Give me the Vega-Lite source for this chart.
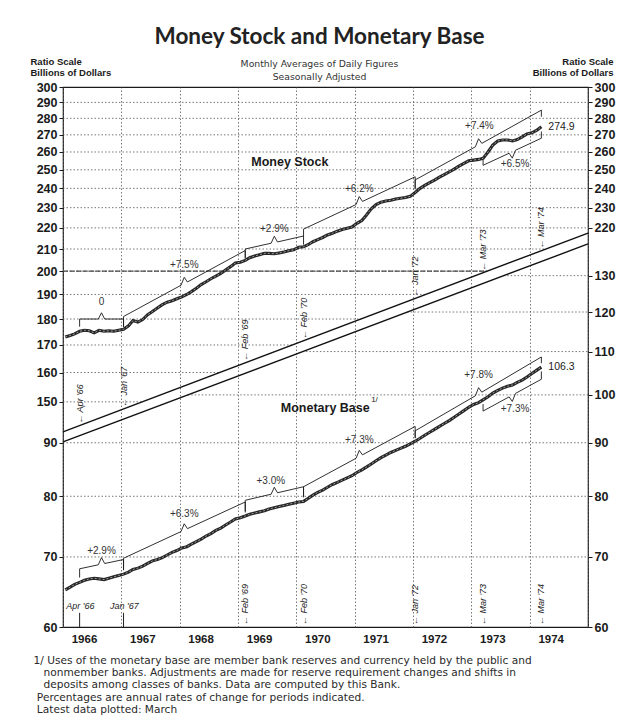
{
"$schema":"https://vega.github.io/schema/vega-lite/v6.json",
"width":525,"height":540,
"autosize":{"type":"none"},
"padding":{"left":63,"top":87,"right":52,"bottom":98},
"background":"white",
"title":{"text":"Money Stock and Monetary Base","subtitle":["Monthly Averages of Daily Figures","Seasonally Adjusted"],"anchor":"middle","dx":-6,"offset":-26,"font":"Lato","fontSize":22.5,"fontWeight":"bold","color":"#222","subtitleFont":"DejaVu Sans","subtitleFontSize":9.3,"subtitleColor":"#333","subtitlePadding":12,"subtitleLineHeight":12.5},
"config":{
 "view":{"stroke":"#1a1a1a","strokeWidth":1.2},
 "axisY":{"labelFont":"Liberation Sans","labelFontWeight":"bold","labelFontSize":12.5,"labelColor":"#1a1a1a","tickColor":"#1a1a1a","domain":false,"grid":false,"labelOverlap":false,"titleFont":"Liberation Sans","titleColor":"#1a1a1a"}
},
"datasets":{
 "money":[
  {"date":"1966-01-15","value":173.0},{"date":"1966-02-15","value":173.6},{"date":"1966-03-15","value":174.2},{"date":"1966-04-15","value":175.2},{"date":"1966-05-15","value":175.6},{"date":"1966-06-15","value":175.4},{"date":"1966-07-15","value":174.6},{"date":"1966-08-15","value":175.6},{"date":"1966-09-15","value":175.2},{"date":"1966-10-15","value":175.4},{"date":"1966-11-15","value":175.2},{"date":"1966-12-15","value":175.6},
  {"date":"1967-01-15","value":176.0},{"date":"1967-02-15","value":177.3},{"date":"1967-03-15","value":179.4},{"date":"1967-04-15","value":178.8},{"date":"1967-05-15","value":179.8},{"date":"1967-06-15","value":181.7},{"date":"1967-07-15","value":183.0},{"date":"1967-08-15","value":184.4},{"date":"1967-09-15","value":185.8},{"date":"1967-10-15","value":186.8},{"date":"1967-11-15","value":187.4},{"date":"1967-12-15","value":188.2},
  {"date":"1968-01-15","value":189.0},{"date":"1968-02-15","value":190.0},{"date":"1968-03-15","value":191.2},{"date":"1968-04-15","value":192.6},{"date":"1968-05-15","value":194.2},{"date":"1968-06-15","value":195.4},{"date":"1968-07-15","value":196.7},{"date":"1968-08-15","value":197.8},{"date":"1968-09-15","value":199.0},{"date":"1968-10-15","value":200.5},{"date":"1968-11-15","value":202.0},{"date":"1968-12-15","value":203.6},
  {"date":"1969-01-15","value":204.0},{"date":"1969-02-15","value":204.8},{"date":"1969-03-15","value":206.0},{"date":"1969-04-15","value":206.8},{"date":"1969-05-15","value":207.4},{"date":"1969-06-15","value":208.0},{"date":"1969-07-15","value":208.0},{"date":"1969-08-15","value":207.8},{"date":"1969-09-15","value":208.2},{"date":"1969-10-15","value":208.6},{"date":"1969-11-15","value":209.2},{"date":"1969-12-15","value":209.6},
  {"date":"1970-01-15","value":210.8},{"date":"1970-02-15","value":211.0},{"date":"1970-03-15","value":212.0},{"date":"1970-04-15","value":213.4},{"date":"1970-05-15","value":214.4},{"date":"1970-06-15","value":215.4},{"date":"1970-07-15","value":216.6},{"date":"1970-08-15","value":217.4},{"date":"1970-09-15","value":218.4},{"date":"1970-10-15","value":219.2},{"date":"1970-11-15","value":219.8},{"date":"1970-12-15","value":220.4},
  {"date":"1971-01-15","value":222.2},{"date":"1971-02-15","value":223.6},{"date":"1971-03-15","value":226.2},{"date":"1971-04-15","value":229.4},{"date":"1971-05-15","value":231.6},{"date":"1971-06-15","value":232.8},{"date":"1971-07-15","value":233.4},{"date":"1971-08-15","value":233.8},{"date":"1971-09-15","value":234.4},{"date":"1971-10-15","value":234.8},{"date":"1971-11-15","value":235.2},{"date":"1971-12-15","value":235.8},
  {"date":"1972-01-15","value":237.8},{"date":"1972-02-15","value":240.0},{"date":"1972-03-15","value":241.6},{"date":"1972-04-15","value":243.0},{"date":"1972-05-15","value":244.4},{"date":"1972-06-15","value":246.0},{"date":"1972-07-15","value":247.4},{"date":"1972-08-15","value":248.8},{"date":"1972-09-15","value":250.4},{"date":"1972-10-15","value":252.0},{"date":"1972-11-15","value":253.6},{"date":"1972-12-15","value":255.0},
  {"date":"1973-01-15","value":255.4},{"date":"1973-02-15","value":255.8},{"date":"1973-03-15","value":256.4},{"date":"1973-04-15","value":260.0},{"date":"1973-05-15","value":264.0},{"date":"1973-06-15","value":266.4},{"date":"1973-07-15","value":267.0},{"date":"1973-08-15","value":267.0},{"date":"1973-09-15","value":266.4},{"date":"1973-10-15","value":267.2},{"date":"1973-11-15","value":268.8},{"date":"1973-12-15","value":270.6},
  {"date":"1974-01-15","value":271.2},{"date":"1974-02-15","value":272.8},{"date":"1974-03-15","value":274.9}
 ],
 "base":[
  {"date":"1966-01-15","value":65.1},{"date":"1966-02-15","value":65.5},{"date":"1966-03-15","value":65.9},{"date":"1966-04-15","value":66.2},{"date":"1966-05-15","value":66.5},{"date":"1966-06-15","value":66.7},{"date":"1966-07-15","value":66.8},{"date":"1966-08-15","value":66.7},{"date":"1966-09-15","value":66.6},{"date":"1966-10-15","value":66.8},{"date":"1966-11-15","value":67.0},{"date":"1966-12-15","value":67.2},
  {"date":"1967-01-15","value":67.4},{"date":"1967-02-15","value":67.7},{"date":"1967-03-15","value":68.1},{"date":"1967-04-15","value":68.3},{"date":"1967-05-15","value":68.6},{"date":"1967-06-15","value":69.0},{"date":"1967-07-15","value":69.4},{"date":"1967-08-15","value":69.6},{"date":"1967-09-15","value":69.9},{"date":"1967-10-15","value":70.3},{"date":"1967-11-15","value":70.7},{"date":"1967-12-15","value":71.0},
  {"date":"1968-01-15","value":71.4},{"date":"1968-02-15","value":71.6},{"date":"1968-03-15","value":72.0},{"date":"1968-04-15","value":72.4},{"date":"1968-05-15","value":72.8},{"date":"1968-06-15","value":73.3},{"date":"1968-07-15","value":73.7},{"date":"1968-08-15","value":74.2},{"date":"1968-09-15","value":74.6},{"date":"1968-10-15","value":75.1},{"date":"1968-11-15","value":75.6},{"date":"1968-12-15","value":76.1},
  {"date":"1969-01-15","value":76.3},{"date":"1969-02-15","value":76.6},{"date":"1969-03-15","value":76.9},{"date":"1969-04-15","value":77.1},{"date":"1969-05-15","value":77.3},{"date":"1969-06-15","value":77.5},{"date":"1969-07-15","value":77.8},{"date":"1969-08-15","value":78.0},{"date":"1969-09-15","value":78.2},{"date":"1969-10-15","value":78.4},{"date":"1969-11-15","value":78.6},{"date":"1969-12-15","value":78.8},
  {"date":"1970-01-15","value":79.0},{"date":"1970-02-15","value":79.1},{"date":"1970-03-15","value":79.6},{"date":"1970-04-15","value":80.2},{"date":"1970-05-15","value":80.7},{"date":"1970-06-15","value":81.1},{"date":"1970-07-15","value":81.6},{"date":"1970-08-15","value":82.1},{"date":"1970-09-15","value":82.5},{"date":"1970-10-15","value":82.9},{"date":"1970-11-15","value":83.3},{"date":"1970-12-15","value":83.7},
  {"date":"1971-01-15","value":84.3},{"date":"1971-02-15","value":84.8},{"date":"1971-03-15","value":85.3},{"date":"1971-04-15","value":85.9},{"date":"1971-05-15","value":86.5},{"date":"1971-06-15","value":87.1},{"date":"1971-07-15","value":87.6},{"date":"1971-08-15","value":88.1},{"date":"1971-09-15","value":88.5},{"date":"1971-10-15","value":88.9},{"date":"1971-11-15","value":89.3},{"date":"1971-12-15","value":89.8},
  {"date":"1972-01-15","value":90.3},{"date":"1972-02-15","value":90.9},{"date":"1972-03-15","value":91.5},{"date":"1972-04-15","value":92.1},{"date":"1972-05-15","value":92.7},{"date":"1972-06-15","value":93.3},{"date":"1972-07-15","value":93.9},{"date":"1972-08-15","value":94.5},{"date":"1972-09-15","value":95.2},{"date":"1972-10-15","value":95.9},{"date":"1972-11-15","value":96.6},{"date":"1972-12-15","value":97.3},
  {"date":"1973-01-15","value":97.9},{"date":"1973-02-15","value":98.3},{"date":"1973-03-15","value":98.9},{"date":"1973-04-15","value":99.6},{"date":"1973-05-15","value":100.4},{"date":"1973-06-15","value":101.0},{"date":"1973-07-15","value":101.5},{"date":"1973-08-15","value":101.9},{"date":"1973-09-15","value":102.2},{"date":"1973-10-15","value":102.8},{"date":"1973-11-15","value":103.3},{"date":"1973-12-15","value":104.0},
  {"date":"1974-01-15","value":104.8},{"date":"1974-02-15","value":105.6},{"date":"1974-03-15","value":106.3}
 ],
 "moneyGrid":[
  {"level":290,"from":"1966-01-01","to":"1975-01-01"},{"level":280,"from":"1966-01-01","to":"1975-01-01"},{"level":270,"from":"1966-01-01","to":"1975-01-01"},{"level":260,"from":"1966-01-01","to":"1975-01-01"},{"level":250,"from":"1966-01-01","to":"1975-01-01"},{"level":240,"from":"1966-01-01","to":"1975-01-01"},{"level":230,"from":"1966-01-01","to":"1975-01-01"},{"level":220,"from":"1966-01-01","to":"1975-01-01"},
  {"level":210,"from":"1966-01-01","to":"1974-04-11"},{"level":200,"from":"1966-01-01","to":"1973-04-10"},{"level":190,"from":"1966-01-01","to":"1972-03-20"},{"level":180,"from":"1966-01-01","to":"1971-02-10"},{"level":170,"from":"1966-01-01","to":"1969-12-08"},{"level":160,"from":"1966-01-01","to":"1968-09-10"},{"level":150,"from":"1966-01-01","to":"1967-05-12"}
 ],
 "baseGrid":[
  {"level":70,"from":"1966-01-01","to":"1975-01-01"},{"level":80,"from":"1966-01-01","to":"1975-01-01"},{"level":90,"from":"1966-01-01","to":"1975-01-01"},
  {"level":100,"from":"1968-02-21","to":"1975-01-01"},{"level":110,"from":"1970-02-08","to":"1975-01-01"},{"level":120,"from":"1971-11-26","to":"1975-01-01"},{"level":130,"from":"1973-07-22","to":"1975-01-01"}
 ],
 "upperDiag":[{"date":"1966-01-01","value":140.4},{"date":"1975-01-01","value":217.5}],
 "lowerDiag":[{"date":"1966-01-01","value":90.16},{"date":"1975-01-01","value":139.4}],
 "moneyTrend":[
  {"p":"A","o":1,"date":"1966-04-15","value":177.0},{"p":"A","o":2,"date":"1966-04-15","value":180.0},{"p":"A","o":3,"date":"1966-08-10","value":180.0},{"p":"A","o":4,"date":"1966-08-30","value":182.5},{"p":"A","o":5,"date":"1966-09-19","value":180.0},{"p":"A","o":6,"date":"1967-01-15","value":180.0},{"p":"A","o":7,"date":"1967-01-15","value":176.8},
  {"p":"B","o":1,"date":"1967-01-15","value":177.0},{"p":"B","o":2,"date":"1967-01-15","value":181.0},{"p":"B","o":3,"date":"1968-01-10","value":193.9},{"p":"B","o":4,"date":"1968-01-30","value":197.3},{"p":"B","o":5,"date":"1968-02-19","value":195.3},{"p":"B","o":6,"date":"1969-02-15","value":209.3},{"p":"B","o":7,"date":"1969-02-15","value":205.6},
  {"p":"C","o":1,"date":"1969-02-15","value":206.0},{"p":"C","o":2,"date":"1969-02-15","value":210.0},{"p":"C","o":3,"date":"1969-07-27","value":212.7},{"p":"C","o":4,"date":"1969-08-16","value":216.0},{"p":"C","o":5,"date":"1969-09-05","value":213.3},{"p":"C","o":6,"date":"1970-02-15","value":216.1},{"p":"C","o":7,"date":"1970-02-15","value":212.0},
  {"p":"D","o":1,"date":"1970-02-15","value":216.0},{"p":"D","o":2,"date":"1970-02-15","value":219.4},{"p":"D","o":3,"date":"1971-01-10","value":231.6},{"p":"D","o":4,"date":"1971-01-30","value":235.7},{"p":"D","o":5,"date":"1971-02-19","value":233.2},{"p":"D","o":6,"date":"1972-01-15","value":246.2},{"p":"D","o":7,"date":"1972-01-15","value":239.5},
  {"p":"E","o":1,"date":"1972-01-15","value":240.0},{"p":"E","o":2,"date":"1972-01-15","value":244.5},{"p":"E","o":3,"date":"1973-01-26","value":263.0},{"p":"E","o":4,"date":"1973-02-15","value":267.7},{"p":"E","o":5,"date":"1973-03-07","value":265.0},{"p":"E","o":6,"date":"1974-03-15","value":285.1},{"p":"E","o":7,"date":"1974-03-15","value":281.0},
  {"p":"F","o":1,"date":"1973-03-15","value":255.5},{"p":"F","o":2,"date":"1973-03-15","value":252.5},{"p":"F","o":3,"date":"1973-08-25","value":259.3},{"p":"F","o":4,"date":"1973-09-14","value":256.5},{"p":"F","o":5,"date":"1973-10-04","value":261.0},{"p":"F","o":6,"date":"1974-03-15","value":268.0},{"p":"F","o":7,"date":"1974-03-15","value":272.0}
 ],
 "baseTrend":[
  {"p":"A","o":1,"date":"1966-04-15","value":66.9},{"p":"A","o":2,"date":"1966-04-15","value":68.2},{"p":"A","o":3,"date":"1966-08-10","value":68.8},{"p":"A","o":4,"date":"1966-08-30","value":69.9},{"p":"A","o":5,"date":"1966-09-19","value":69.0},{"p":"A","o":6,"date":"1967-01-15","value":69.6},{"p":"A","o":7,"date":"1967-01-15","value":68.0},
  {"p":"B","o":1,"date":"1967-01-15","value":68.0},{"p":"B","o":2,"date":"1967-01-15","value":69.8},{"p":"B","o":3,"date":"1968-01-10","value":74.02},{"p":"B","o":4,"date":"1968-01-30","value":75.3},{"p":"B","o":5,"date":"1968-02-19","value":74.5},{"p":"B","o":6,"date":"1969-02-15","value":79.0},{"p":"B","o":7,"date":"1969-02-15","value":77.2},
  {"p":"C","o":1,"date":"1969-02-15","value":77.4},{"p":"C","o":2,"date":"1969-02-15","value":79.3},{"p":"C","o":3,"date":"1969-07-27","value":80.36},{"p":"C","o":4,"date":"1969-08-16","value":81.6},{"p":"C","o":5,"date":"1969-09-05","value":80.62},{"p":"C","o":6,"date":"1970-02-15","value":81.7},{"p":"C","o":7,"date":"1970-02-15","value":79.8},
  {"p":"D","o":1,"date":"1970-02-15","value":80.0},{"p":"D","o":2,"date":"1970-02-15","value":81.7},{"p":"D","o":3,"date":"1971-01-10","value":86.98},{"p":"D","o":4,"date":"1971-01-30","value":88.5},{"p":"D","o":5,"date":"1971-02-19","value":87.64},{"p":"D","o":6,"date":"1972-01-15","value":93.3},{"p":"D","o":7,"date":"1972-01-15","value":90.9},
  {"p":"E","o":1,"date":"1972-01-15","value":91.0},{"p":"E","o":2,"date":"1972-01-15","value":92.4},{"p":"E","o":3,"date":"1973-01-26","value":99.8},{"p":"E","o":4,"date":"1973-02-15","value":101.6},{"p":"E","o":5,"date":"1973-03-07","value":100.6},{"p":"E","o":6,"date":"1974-03-15","value":108.7},{"p":"E","o":7,"date":"1974-03-15","value":107.2},
  {"p":"F","o":1,"date":"1973-03-15","value":98.0},{"p":"F","o":2,"date":"1973-03-15","value":96.5},{"p":"F","o":3,"date":"1973-08-25","value":99.56},{"p":"F","o":4,"date":"1973-09-14","value":98.56},{"p":"F","o":5,"date":"1973-10-04","value":100.32},{"p":"F","o":6,"date":"1974-03-15","value":103.5},{"p":"F","o":7,"date":"1974-03-15","value":105.3}
 ],
 "moneyText":[
  {"kind":"rate","label":"0","date":"1966-08-30","value":187.0},
  {"kind":"rate","label":"+7.5%","date":"1968-01-30","value":202.7},
  {"kind":"rate","label":"+2.9%","date":"1969-08-16","value":219.5},
  {"kind":"rate","label":"+6.2%","date":"1971-01-30","value":239.5},
  {"kind":"rate","label":"+7.4%","date":"1973-02-20","value":275.4},
  {"kind":"rate","label":"+6.5%","date":"1973-10-01","value":253.0},
  {"kind":"latest","label":"274.9","date":"1974-03-15","value":274.9},
  {"kind":"name","label":"Money Stock","date":"1969-11-21","value":254.4}
 ],
 "baseText":[
  {"kind":"rate","label":"+2.9%","date":"1966-08-30","value":71.0},
  {"kind":"rate","label":"+6.3%","date":"1968-01-30","value":76.9},
  {"kind":"rate","label":"+3.0%","date":"1969-07-25","value":82.7},
  {"kind":"rate","label":"+7.3%","date":"1971-01-30","value":90.6},
  {"kind":"rate","label":"+7.8%","date":"1973-02-15","value":104.5},
  {"kind":"rate","label":"+7.3%","date":"1973-10-01","value":97.0},
  {"kind":"latest","label":"106.3","date":"1974-03-15","value":106.3},
  {"kind":"name","label":"Monetary Base","date":"1970-07-01","value":97.2},
  {"kind":"note","label":"1/","date":"1971-05-05","value":98.8}
 ],
 "upperMarks":[
  {"label":"← Apr '66","date":"1966-04-15","value":143.0},
  {"label":"← Jan '67","date":"1967-01-15","value":148.3},
  {"label":"← Feb '69","date":"1969-02-15","value":164.2},
  {"label":"← Feb '70","date":"1970-02-15","value":172.3},
  {"label":"← Jan '72","date":"1972-01-15","value":189.1},
  {"label":"← Mar '73","date":"1973-03-15","value":200.2},
  {"label":"← Mar '74","date":"1974-03-15","value":210.2}
 ],
 "lowerMarks":[
  {"label":"← Feb '69","date":"1969-02-15","value":60.25},
  {"label":"← Feb '70","date":"1970-02-15","value":60.25},
  {"label":"← Jan '72","date":"1972-01-15","value":60.25},
  {"label":"← Mar '73","date":"1973-03-15","value":60.25},
  {"label":"← Mar '74","date":"1974-03-15","value":60.25}
 ],
 "flatMarks":[
  {"label":"Apr '66","date":"1966-04-20","value":62.8},
  {"label":"Jan '67","date":"1967-01-20","value":62.8}
 ],
 "flatArrows":[
  {"date":"1966-04-15","top":61.9,"bottom":60.0},
  {"date":"1967-01-15","top":61.9,"bottom":60.0}
 ]
},
"layer":[
 {"data":{"name":"money"},"mark":{"type":"point","opacity":0},
  "encoding":{"x":{"field":"date","type":"temporal","scale":{"domain":[{"year":1966,"month":1,"date":1},{"year":1975,"month":1,"date":1}]},
    "axis":{"orient":"bottom","format":"%Y","labelExpr":"year(datum.value) > 1974 ? '' : timeFormat(datum.value, '%Y')","grid":true,"gridColor":"#555","gridDash":[1.5,2],"gridWidth":0.8,"domain":false,"ticks":false,"labelFont":"Liberation Sans","labelFontWeight":"bold","labelFontSize":11.5,"labelColor":"#1a1a1a","labelOffset":21,"labelFlush":false,"labelPadding":6,
    "title":["1/ Uses of the monetary base are member bank reserves and currency held by the public and","\u200d\u00a0\u00a0\u00a0nonmember banks. Adjustments are made for reserve requirement changes and shifts in","\u200d\u00a0\u00a0\u00a0deposits among classes of banks. Data are computed by this Bank.","\u200d\u00a0Percentages are annual rates of change for periods indicated.","\u200d\u00a0Latest data plotted: March"],
    "titleAlign":"left","titleBaseline":"alphabetic","titleX":-30,"titleY":36,"titleFont":"DejaVu Sans","titleFontSize":10.6,"titleFontWeight":"normal","titleLineHeight":12.4,"titleColor":"#2a2a2a"}}}},
 {"layer":[
  {"data":{"name":"moneyGrid"},"mark":{"type":"rule","stroke":"#555","strokeWidth":0.8,"strokeDash":[1.5,2]},
   "encoding":{"x":{"field":"from","type":"temporal","scale":{"domain":[{"year":1966,"month":1,"date":1},{"year":1975,"month":1,"date":1}]},"axis":null},"x2":{"field":"to"},
   "y":{"field":"level","type":"quantitative","scale":{"type":"log","domain":[91.37,300],"nice":false},"axis":null}}},
  {"data":{"name":"moneyGrid"},"transform":[{"filter":"datum.level === 200"}],"mark":{"type":"rule","stroke":"#444","strokeWidth":1.4,"strokeDash":[5,1.5]},
   "encoding":{"x":{"field":"from","type":"temporal","scale":{"domain":[{"year":1966,"month":1,"date":1},{"year":1975,"month":1,"date":1}]},"axis":null},"x2":{"field":"to"},
   "y":{"field":"level","type":"quantitative","scale":{"type":"log","domain":[91.37,300],"nice":false},"axis":null}}},
  {"data":{"name":"upperDiag"},"mark":{"type":"line","stroke":"#111","strokeWidth":1.4},
   "encoding":{"x":{"field":"date","type":"temporal","scale":{"domain":[{"year":1966,"month":1,"date":1},{"year":1975,"month":1,"date":1}]},"axis":null},
   "y":{"field":"value","type":"quantitative","scale":{"type":"log","domain":[91.37,300],"nice":false},"axis":null}}},
  {"data":{"name":"moneyTrend"},"mark":{"type":"line","stroke":"#1a1a1a","strokeWidth":0.9},
   "encoding":{"x":{"field":"date","type":"temporal","scale":{"domain":[{"year":1966,"month":1,"date":1},{"year":1975,"month":1,"date":1}]},"axis":null},
   "y":{"field":"value","type":"quantitative","scale":{"type":"log","domain":[91.37,300],"nice":false},
     "axis":{"orient":"right","values":[220,230,240,250,260,270,280,290,300],"format":"d","tickSize":4,"labelPadding":2,"title":["Ratio Scale","Billions of Dollars"],"titleAngle":0,"titleAlign":"right","titleBaseline":"alphabetic","titleX":25,"titleY":-23,"titleFontSize":9.5,"titleFontWeight":"bold","titleLineHeight":11}},
   "detail":{"field":"p"},"order":{"field":"o","type":"quantitative"}}},
  {"data":{"name":"money"},"mark":{"type":"line","stroke":"#262626","strokeWidth":3.1},
   "encoding":{"x":{"field":"date","type":"temporal","scale":{"domain":[{"year":1966,"month":1,"date":1},{"year":1975,"month":1,"date":1}]},"axis":null},
   "y":{"field":"value","type":"quantitative","scale":{"type":"log","domain":[91.37,300],"nice":false},
     "axis":{"orient":"left","values":[150,160,170,180,190,200,210,220,230,240,250,260,270,280,290,300],"format":"d","tickSize":4,"labelPadding":2,"title":["Ratio Scale","Billions of Dollars"],"titleAngle":0,"titleAlign":"left","titleBaseline":"alphabetic","titleX":-33,"titleY":-23,"titleFontSize":9.5,"titleFontWeight":"bold","titleLineHeight":11}}}},
  {"data":{"name":"money"},"mark":{"type":"line","stroke":"#bdbdbd","strokeWidth":0.8,"strokeDash":[2,2]},
   "encoding":{"x":{"field":"date","type":"temporal","scale":{"domain":[{"year":1966,"month":1,"date":1},{"year":1975,"month":1,"date":1}]},"axis":null},
   "y":{"field":"value","type":"quantitative","scale":{"type":"log","domain":[91.37,300],"nice":false},"axis":null}}},
  {"data":{"name":"moneyText"},"transform":[{"filter":"datum.kind === 'rate'"}],"mark":{"type":"text","font":"Liberation Sans","fontSize":10,"fill":"#333","align":"center","baseline":"middle"},
   "encoding":{"x":{"field":"date","type":"temporal","scale":{"domain":[{"year":1966,"month":1,"date":1},{"year":1975,"month":1,"date":1}]},"axis":null},
   "y":{"field":"value","type":"quantitative","scale":{"type":"log","domain":[91.37,300],"nice":false},"axis":null},"text":{"field":"label"}}},
  {"data":{"name":"moneyText"},"transform":[{"filter":"datum.kind === 'latest'"}],"mark":{"type":"text","font":"Liberation Sans","fontSize":10.5,"fill":"#222","align":"left","baseline":"middle","dx":7},
   "encoding":{"x":{"field":"date","type":"temporal","scale":{"domain":[{"year":1966,"month":1,"date":1},{"year":1975,"month":1,"date":1}]},"axis":null},
   "y":{"field":"value","type":"quantitative","scale":{"type":"log","domain":[91.37,300],"nice":false},"axis":null},"text":{"field":"label"}}},
  {"data":{"name":"moneyText"},"transform":[{"filter":"datum.kind === 'name'"}],"mark":{"type":"text","font":"Liberation Sans","fontSize":12.5,"fontWeight":"bold","fill":"#1a1a1a","align":"center","baseline":"middle"},
   "encoding":{"x":{"field":"date","type":"temporal","scale":{"domain":[{"year":1966,"month":1,"date":1},{"year":1975,"month":1,"date":1}]},"axis":null},
   "y":{"field":"value","type":"quantitative","scale":{"type":"log","domain":[91.37,300],"nice":false},"axis":null},"text":{"field":"label"}}},
  {"data":{"name":"upperMarks"},"mark":{"type":"text","font":"Liberation Sans","fontSize":9,"fontStyle":"italic","fill":"#222","align":"left","baseline":"middle","angle":270},
   "encoding":{"x":{"field":"date","type":"temporal","scale":{"domain":[{"year":1966,"month":1,"date":1},{"year":1975,"month":1,"date":1}]},"axis":null},
   "y":{"field":"value","type":"quantitative","scale":{"type":"log","domain":[91.37,300],"nice":false},"axis":null},"text":{"field":"label"}}}
 ]},
 {"layer":[
  {"data":{"name":"baseGrid"},"mark":{"type":"rule","stroke":"#555","strokeWidth":0.8,"strokeDash":[1.5,2]},
   "encoding":{"x":{"field":"from","type":"temporal","scale":{"domain":[{"year":1966,"month":1,"date":1},{"year":1975,"month":1,"date":1}]},"axis":null},"x2":{"field":"to"},
   "y":{"field":"level","type":"quantitative","scale":{"type":"log","domain":[60,196.9],"nice":false},"axis":null}}},
  {"data":{"name":"lowerDiag"},"mark":{"type":"line","stroke":"#111","strokeWidth":1.4},
   "encoding":{"x":{"field":"date","type":"temporal","scale":{"domain":[{"year":1966,"month":1,"date":1},{"year":1975,"month":1,"date":1}]},"axis":null},
   "y":{"field":"value","type":"quantitative","scale":{"type":"log","domain":[60,196.9],"nice":false},"axis":null}}},
  {"data":{"name":"baseTrend"},"mark":{"type":"line","stroke":"#1a1a1a","strokeWidth":0.9},
   "encoding":{"x":{"field":"date","type":"temporal","scale":{"domain":[{"year":1966,"month":1,"date":1},{"year":1975,"month":1,"date":1}]},"axis":null},
   "y":{"field":"value","type":"quantitative","scale":{"type":"log","domain":[60,196.9],"nice":false},
     "axis":{"orient":"right","values":[60,70,80,90,100,110,120,130],"format":"d","tickSize":4,"labelPadding":2,"title":null}},
   "detail":{"field":"p"},"order":{"field":"o","type":"quantitative"}}},
  {"data":{"name":"base"},"mark":{"type":"line","stroke":"#262626","strokeWidth":3.1},
   "encoding":{"x":{"field":"date","type":"temporal","scale":{"domain":[{"year":1966,"month":1,"date":1},{"year":1975,"month":1,"date":1}]},"axis":null},
   "y":{"field":"value","type":"quantitative","scale":{"type":"log","domain":[60,196.9],"nice":false},
     "axis":{"orient":"left","values":[60,70,80,90],"format":"d","tickSize":4,"labelPadding":2,"title":null}}}},
  {"data":{"name":"base"},"mark":{"type":"line","stroke":"#bdbdbd","strokeWidth":0.8,"strokeDash":[2,2]},
   "encoding":{"x":{"field":"date","type":"temporal","scale":{"domain":[{"year":1966,"month":1,"date":1},{"year":1975,"month":1,"date":1}]},"axis":null},
   "y":{"field":"value","type":"quantitative","scale":{"type":"log","domain":[60,196.9],"nice":false},"axis":null}}},
  {"data":{"name":"baseText"},"transform":[{"filter":"datum.kind === 'rate'"}],"mark":{"type":"text","font":"Liberation Sans","fontSize":10,"fill":"#333","align":"center","baseline":"middle"},
   "encoding":{"x":{"field":"date","type":"temporal","scale":{"domain":[{"year":1966,"month":1,"date":1},{"year":1975,"month":1,"date":1}]},"axis":null},
   "y":{"field":"value","type":"quantitative","scale":{"type":"log","domain":[60,196.9],"nice":false},"axis":null},"text":{"field":"label"}}},
  {"data":{"name":"baseText"},"transform":[{"filter":"datum.kind === 'latest'"}],"mark":{"type":"text","font":"Liberation Sans","fontSize":10.5,"fill":"#222","align":"left","baseline":"middle","dx":7},
   "encoding":{"x":{"field":"date","type":"temporal","scale":{"domain":[{"year":1966,"month":1,"date":1},{"year":1975,"month":1,"date":1}]},"axis":null},
   "y":{"field":"value","type":"quantitative","scale":{"type":"log","domain":[60,196.9],"nice":false},"axis":null},"text":{"field":"label"}}},
  {"data":{"name":"baseText"},"transform":[{"filter":"datum.kind === 'name'"}],"mark":{"type":"text","font":"Liberation Sans","fontSize":12.5,"fontWeight":"bold","fill":"#1a1a1a","align":"center","baseline":"middle"},
   "encoding":{"x":{"field":"date","type":"temporal","scale":{"domain":[{"year":1966,"month":1,"date":1},{"year":1975,"month":1,"date":1}]},"axis":null},
   "y":{"field":"value","type":"quantitative","scale":{"type":"log","domain":[60,196.9],"nice":false},"axis":null},"text":{"field":"label"}}},
  {"data":{"name":"baseText"},"transform":[{"filter":"datum.kind === 'note'"}],"mark":{"type":"text","font":"Liberation Sans","fontSize":8,"fill":"#222","align":"center","baseline":"middle"},
   "encoding":{"x":{"field":"date","type":"temporal","scale":{"domain":[{"year":1966,"month":1,"date":1},{"year":1975,"month":1,"date":1}]},"axis":null},
   "y":{"field":"value","type":"quantitative","scale":{"type":"log","domain":[60,196.9],"nice":false},"axis":null},"text":{"field":"label"}}},
  {"data":{"name":"lowerMarks"},"mark":{"type":"text","font":"Liberation Sans","fontSize":9,"fontStyle":"italic","fill":"#222","align":"left","baseline":"middle","angle":270},
   "encoding":{"x":{"field":"date","type":"temporal","scale":{"domain":[{"year":1966,"month":1,"date":1},{"year":1975,"month":1,"date":1}]},"axis":null},
   "y":{"field":"value","type":"quantitative","scale":{"type":"log","domain":[60,196.9],"nice":false},"axis":null},"text":{"field":"label"}}},
  {"data":{"name":"flatMarks"},"mark":{"type":"text","font":"Liberation Sans","fontSize":9,"fontStyle":"italic","fill":"#222","align":"center","baseline":"middle"},
   "encoding":{"x":{"field":"date","type":"temporal","scale":{"domain":[{"year":1966,"month":1,"date":1},{"year":1975,"month":1,"date":1}]},"axis":null},
   "y":{"field":"value","type":"quantitative","scale":{"type":"log","domain":[60,196.9],"nice":false},"axis":null},"text":{"field":"label"}}},
  {"data":{"name":"flatArrows"},"mark":{"type":"rule","stroke":"#222","strokeWidth":1},
   "encoding":{"x":{"field":"date","type":"temporal","scale":{"domain":[{"year":1966,"month":1,"date":1},{"year":1975,"month":1,"date":1}]},"axis":null},
   "y":{"field":"top","type":"quantitative","scale":{"type":"log","domain":[60,196.9],"nice":false},"axis":null},"y2":{"field":"bottom"}}}
 ]}
],
"resolve":{"scale":{"y":"independent"},"axis":{"x":"independent"}}
}
